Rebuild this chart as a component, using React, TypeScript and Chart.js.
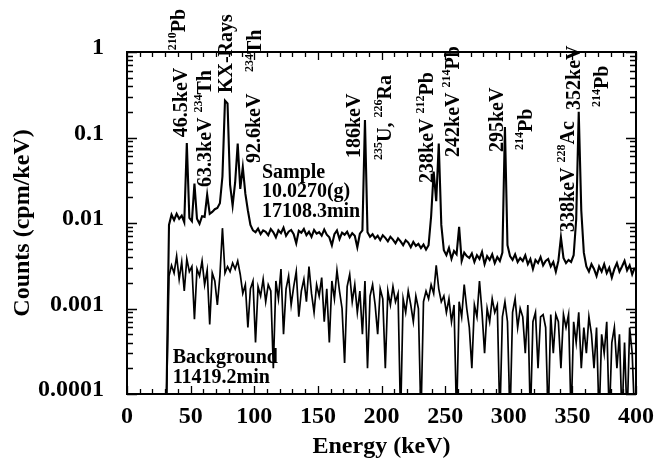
import React, { useEffect, useRef } from "react";
import { Chart, registerables } from "chart.js";

Chart.register(...registerables);

// Channel energies: odd keV values from 31 to 399 (2 keV bins)
const channelStart = 31;
const channelWidth = 2;

// Sample spectrum (cpm/keV), 10.0270 g, 17108.3 min
const sampleCounts = [
  0.00008, 0.0095, 0.0125, 0.0108, 0.0128, 0.0112, 0.0122, 0.0102, 0.086, 0.0115,
  0.0105, 0.029, 0.0112, 0.0098, 0.012, 0.0118, 0.0215, 0.0128, 0.0135, 0.0145,
  0.015, 0.017, 0.035, 0.27, 0.25, 0.028, 0.016, 0.03, 0.085, 0.025,
  0.045, 0.022, 0.014, 0.0095, 0.0082, 0.0078, 0.0086, 0.0074, 0.0082, 0.0079,
  0.0072, 0.0085, 0.0078, 0.0068, 0.0082, 0.0076, 0.0088, 0.0071, 0.0079, 0.0083,
  0.0074, 0.0058, 0.0081, 0.0077, 0.0085, 0.0072, 0.0079, 0.0069, 0.0083, 0.0075,
  0.0078, 0.0071, 0.0084, 0.0073, 0.0068, 0.0055, 0.0074, 0.0082, 0.0065, 0.0077,
  0.0073, 0.0079, 0.0068, 0.0076, 0.0071, 0.0052, 0.0075, 0.0082, 0.16, 0.0078,
  0.0069, 0.0074, 0.0066, 0.0071, 0.0063, 0.0072, 0.0067, 0.0061, 0.0069, 0.0064,
  0.0058, 0.0066, 0.0061, 0.0055, 0.0063, 0.0059, 0.0052, 0.006, 0.0054, 0.0057,
  0.0051, 0.0056, 0.0049, 0.0055, 0.012, 0.04, 0.018, 0.085, 0.0095, 0.0048,
  0.0042, 0.0051, 0.0038, 0.0047, 0.0043, 0.009, 0.0036, 0.0045, 0.0041, 0.0039,
  0.0044, 0.0035, 0.0042, 0.0038, 0.0046, 0.0033, 0.0041, 0.0037, 0.0043, 0.0034,
  0.004, 0.0036, 0.0045, 0.133, 0.0055, 0.0041, 0.0037, 0.0043, 0.0035, 0.0039,
  0.0036, 0.0042, 0.0033, 0.0038, 0.0029, 0.0037, 0.0034, 0.004, 0.0032, 0.0036,
  0.0038, 0.0031, 0.0035, 0.0027, 0.0036, 0.0068, 0.0039, 0.0034, 0.0037, 0.0035,
  0.0042, 0.011, 0.2, 0.014, 0.0045, 0.0031, 0.0027, 0.0033, 0.0029, 0.0024,
  0.0031, 0.0027, 0.0033, 0.0026, 0.003, 0.0023, 0.0029, 0.0034, 0.0027, 0.0031,
  0.0036, 0.0028, 0.0032, 0.0025, 0.003,
];

// Background spectrum (cpm/keV), 11419.2 min
const backgroundCounts = [
  0.00008, 0.0024, 0.0032, 0.0026, 0.0041, 0.0022, 0.0035, 0.0016, 0.0038, 0.0027,
  0.0031, 0.00075, 0.0029, 0.0024, 0.0036, 0.0019, 0.0028, 0.00065, 0.0026, 0.0021,
  0.0011, 0.0024, 0.0087, 0.0026, 0.0031, 0.0027, 0.0034, 0.0029, 0.0036, 0.0025,
  0.0015, 0.0019, 0.0006, 0.0017, 0.0021, 0.0004, 0.0018, 0.0014, 0.0022, 0.0012,
  0.0019, 0.0016, 0.0002, 0.0021, 0.0013, 0.0029, 0.0005, 0.0017, 0.0024, 0.0011,
  0.0018, 0.0027, 0.0008, 0.0016, 0.0022, 0.0012, 0.0031, 0.0015, 0.0009, 0.0019,
  0.0014, 0.0023, 0.0007, 0.0017, 0.0004, 0.0021, 0.0013, 0.0028, 0.0016, 0.001,
  0.00023, 0.0018, 0.0025, 0.0012, 0.0019, 0.0009, 0.0016, 0.0005, 0.0021, 0.0002,
  0.0014, 0.0019, 0.0011, 0.0005, 0.0017, 0.0013, 0.0002, 0.0016, 0.0011, 0.0018,
  0.0012, 0.0015, 0.00005, 0.0013, 0.0009, 0.0016, 0.0011, 0.0007, 0.0014, 0.001,
  0.00005, 0.0012, 0.0016, 0.0013, 0.0019, 0.0015, 0.0032, 0.0017, 0.0012, 0.0014,
  0.0009, 0.0013, 0.0007, 0.0011, 0.00005, 0.0012, 0.0008, 0.0019, 0.001, 0.0006,
  0.0002, 0.0011, 0.0008, 0.0021, 0.0009, 0.0003, 0.001, 0.0007, 0.0013, 0.0009,
  0.0011, 0.00005, 0.0008, 0.0012, 0.0007, 0.00005, 0.0009, 0.0013, 0.0006, 0.001,
  0.0008, 0.0003, 0.0011, 0.00005, 0.0007, 0.0009, 0.0002, 0.0008, 0.00085, 0.0006,
  0.00005, 0.00085, 0.0003, 0.00085, 0.0007, 0.0002, 0.00085, 0.0006, 0.00085, 0.00005,
  0.0007, 0.0004, 0.0009, 0.0002, 0.0006, 0.0003, 0.0008, 0.0005, 0.0002, 0.0006,
  0.00005, 0.0005, 0.0003, 0.0007, 0.00005, 0.0004, 0.0006, 0.0002, 0.0005, 0.00005,
  0.0004, 0.00005, 0.0006, 0.0003, 0.00005,
];

const xTickValues = [0, 50, 100, 150, 200, 250, 300, 350, 400];
const xTickLabels = ["0", "50", "100", "150", "200", "250", "300", "350", "400"];
const yTickValues = [0.0001, 0.001, 0.01, 0.1, 1];
const yTickLabels = ["0.0001", "0.001", "0.01", "0.1", "1"];

const xTitle = "Energy (keV)";
const yTitle = "Counts (cpm/keV)";

// Rotated peak labels: segments (s = superscript), anchor at text start (energy, value)
const peakNotes = [
  { parts: [{ t: "46.5keV" }], e: 42.9, v: 0.101 },
  { parts: [{ t: "210", s: 1 }, { t: "Pb" }], e: 41.3, v: 1.05 },
  { parts: [{ t: "63.3keV " }, { t: "234", s: 1 }, { t: "Th" }], e: 61.6, v: 0.0264 },
  { parts: [{ t: "KX-Rays" }], e: 78.8, v: 0.331 },
  { parts: [{ t: "234", s: 1 }, { t: "Th" }], e: 101.4, v: 0.583 },
  { parts: [{ t: "92.6keV" }], e: 100.6, v: 0.0503 },
  { parts: [{ t: "186keV" }], e: 179.3, v: 0.0575 },
  { parts: [{ t: "235", s: 1 }, { t: "U, " }, { t: "226", s: 1 }, { t: "Ra" }], e: 203.5, v: 0.0546 },
  { parts: [{ t: "238keV " }, { t: "212", s: 1 }, { t: "Pb" }], e: 236.3, v: 0.0294 },
  { parts: [{ t: "242keV " }, { t: "214", s: 1 }, { t: "Pb" }], e: 256.5, v: 0.0592 },
  { parts: [{ t: "295keV" }], e: 291.6, v: 0.0676 },
  { parts: [{ t: "214", s: 1 }, { t: "Pb" }], e: 314.2, v: 0.0714 },
  { parts: [{ t: "338keV " }, { t: "228", s: 1 }, { t: "Ac" }], e: 347, v: 0.00785 },
  { parts: [{ t: "352keV" }], e: 351.7, v: 0.21 },
  { parts: [{ t: "214", s: 1 }, { t: "Pb" }], e: 374.3, v: 0.227 },
];

const textNotes = [
  { t: "Sample", e: 106, v: 0.0385 },
  { t: "10.0270(g)", e: 106, v: 0.0231 },
  { t: "17108.3min", e: 106, v: 0.0135 },
  { t: "Background", e: 35.9, v: 0.000264 },
  { t: "11419.2min", e: 35.9, v: 0.000154 },
];

const FONT = "'Liberation Serif', 'Times New Roman', serif";

const framePlugin = {
  id: "frame",
  afterDraw(chart: any) {
    const { ctx, chartArea: a, scales } = chart;
    const xs = scales.x;
    const ys = scales.y;
    ctx.save();
    ctx.strokeStyle = "#000";
    ctx.lineWidth = 2;
    ctx.strokeRect(a.left, a.top, a.right - a.left, a.bottom - a.top);
    ctx.lineWidth = 1.3;
    ctx.beginPath();
    for (let e = 0; e <= 400; e += 10) {
      const px = Math.round(xs.getPixelForValue(e)) + 0.5;
      const len = e % 50 === 0 ? 8 : 5;
      ctx.moveTo(px, a.bottom);
      ctx.lineTo(px, a.bottom - len);
      ctx.moveTo(px, a.top);
      ctx.lineTo(px, a.top + len);
    }
    for (let d = -4; d <= 0; d++) {
      for (let m = 1; m <= 9; m++) {
        const val = m * Math.pow(10, d);
        if (val > 1) break;
        const py = Math.round(ys.getPixelForValue(val)) + 0.5;
        const len = m === 1 ? 10 : 6;
        ctx.moveTo(a.left, py);
        ctx.lineTo(a.left + len, py);
        ctx.moveTo(a.right, py);
        ctx.lineTo(a.right - len, py);
      }
    }
    ctx.stroke();

    ctx.fillStyle = "#000";
    ctx.textBaseline = "middle";
    ctx.textAlign = "left";
    const fs = 20;
    for (const n of peakNotes) {
      const x = xs.getPixelForValue(n.e);
      const y = ys.getPixelForValue(n.v);
      ctx.save();
      ctx.translate(x, y);
      ctx.rotate(-Math.PI / 2);
      let cx = 0;
      for (const p of n.parts as any[]) {
        const size = p.s ? Math.round(fs * 0.6) : fs;
        ctx.font = `bold ${size}px ${FONT}`;
        ctx.fillText(p.t, cx, p.s ? -fs * 0.33 : 0);
        cx += ctx.measureText(p.t).width;
      }
      ctx.restore();
    }
    ctx.font = `bold ${fs}px ${FONT}`;
    for (const n of textNotes) {
      ctx.fillText(n.t, xs.getPixelForValue(n.e), ys.getPixelForValue(n.v));
    }
    ctx.restore();
  },
};

export default function App() {
  const ref = useRef<HTMLCanvasElement>(null);
  useEffect(() => {
    document.body.style.margin = "0";
    const energies = sampleCounts.map((_, i) => channelStart + i * channelWidth);
    const chart = new Chart(ref.current as HTMLCanvasElement, {
      type: "line",
      data: {
        datasets: [
          {
            label: "Background",
            data: energies.map((e, i) => ({ x: e, y: backgroundCounts[i] })),
            borderColor: "#000",
            borderWidth: 1.7,
            pointRadius: 0,
            tension: 0,
          },
          {
            label: "Sample",
            data: energies.map((e, i) => ({ x: e, y: sampleCounts[i] })),
            borderColor: "#000",
            borderWidth: 2.1,
            pointRadius: 0,
            tension: 0,
          },
        ],
      },
      options: {
        animation: false,
        responsive: false,
        devicePixelRatio: 1,
        layout: { padding: { top: 52, right: 22, left: 0, bottom: 0 } },
        plugins: { legend: { display: false }, tooltip: { enabled: false } },
        scales: {
          x: {
            type: "linear",
            min: 0,
            max: 400,
            grid: { display: false, drawTicks: false },
            border: { display: false },
            afterBuildTicks: (s: any) => {
              s.ticks = xTickValues.map((v) => ({ value: v }));
            },
            afterFit: (s: any) => {
              s.height = 67;
            },
            ticks: {
              color: "#000",
              padding: 8,
              maxRotation: 0,
              autoSkip: false,
              font: { family: FONT, size: 24, weight: "bold" },
              callback: (_v: any, i: number) => xTickLabels[i],
            },
            title: {
              display: true,
              text: xTitle,
              color: "#000",
              padding: { top: 0, bottom: 0 },
              font: { family: FONT, size: 24, weight: "bold" },
            },
          },
          y: {
            type: "logarithmic",
            min: 0.0001,
            max: 1,
            grid: { display: false, drawTicks: false },
            border: { display: false },
            afterBuildTicks: (s: any) => {
              s.ticks = yTickValues.map((v) => ({ value: v }));
            },
            afterFit: (s: any) => {
              s.width = 127;
            },
            ticks: {
              color: "#000",
              padding: 23,
              labelOffset: -4,
              autoSkip: false,
              font: { family: FONT, size: 24, weight: "bold" },
              callback: (_v: any, i: number) => yTickLabels[i],
            },
            title: {
              display: true,
              text: yTitle,
              color: "#000",
              padding: { top: 8, bottom: 0 },
              font: { family: FONT, size: 24, weight: "bold" },
            },
          },
        },
      },
      plugins: [framePlugin],
    } as any);
    return () => chart.destroy();
  }, []);
  return (
    <div style={{ width: 662, height: 461, background: "#fff" }}>
      <canvas ref={ref} width={662} height={461} />
    </div>
  );
}
